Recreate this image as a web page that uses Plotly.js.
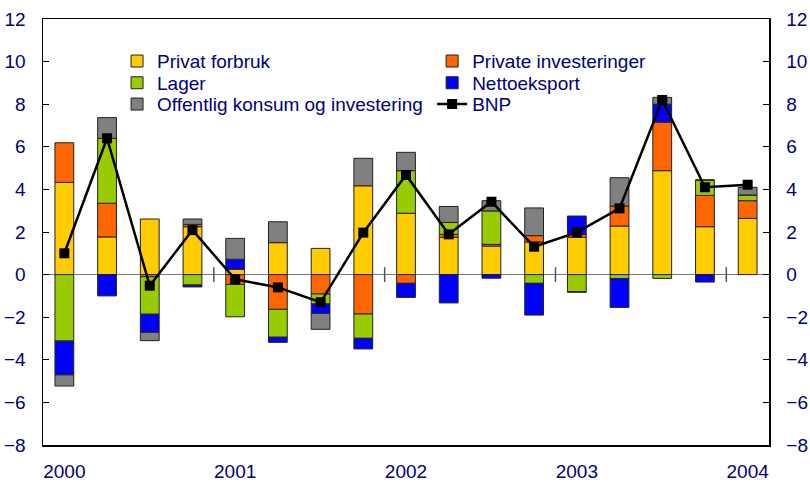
<!DOCTYPE html>
<html><head><meta charset="utf-8">
<script src="https://cdn.plot.ly/plotly-3.0.1.min.js"></script>
<style>html,body{margin:0;padding:0;background:#fff}#c{width:810px;height:483px}</style>
</head><body><div id="c"></div>
<script>
const quarters = ["2000K1","2000K2","2000K3","2000K4","2001K1","2001K2","2001K3","2001K4","2002K1","2002K2","2002K3","2002K4","2003K1","2003K2","2003K3","2003K4","2004K1"];
const tickYears = ["2000","2001","2002","2003","2004"];
const privatForbruk = [4.33,1.77,2.61,2.25,0.25,1.50,1.23,4.17,2.88,1.75,1.34,1.53,1.75,2.28,4.88,2.25,2.64];
const privateInv    = [1.86,1.58,-0.10,0.11,-0.46,-1.63,-0.91,-1.85,-0.41,0.14,0.08,0.30,0.14,0.94,2.28,1.47,0.83];
const lager         = [-3.12,3.05,-1.76,-0.49,-1.52,-1.31,-0.47,-1.14,2.00,0.56,1.57,-0.41,-0.80,-0.19,-0.18,0.72,0.27];
const nettoeksport  = [-1.59,-1.00,-0.85,-0.09,0.47,-0.24,-0.44,-0.50,-0.66,-1.33,-0.17,-1.49,0.86,-1.35,0.84,-0.35,0.00];
const offentlig     = [-0.52,0.97,-0.39,0.25,0.98,0.98,-0.75,1.29,0.86,0.75,0.48,1.30,-0.03,1.33,0.32,0.00,0.36];
const bnp           = [1.00,6.40,-0.52,2.09,-0.22,-0.60,-1.30,1.97,4.68,1.89,3.42,1.31,1.98,3.11,8.20,4.10,4.22];

const navy = "#000080";
const font = {family: "Arial, 'Liberation Sans', sans-serif", size: 19, color: navy};
function barTrace(name, y, color, leg) {
  return {type: "bar", name: name, x: quarters, y: y, legend: leg,
    marker: {color: color, line: {color: "#222", width: 1}}, width: 0.44};
}
const traces = [
  barTrace("Privat forbruk", privatForbruk, "#FFCC00", "legend"),
  barTrace("Private investeringer", privateInv, "#FF6600", "legend2"),
  barTrace("Lager", lager, "#99CC00", "legend3"),
  barTrace("Nettoeksport", nettoeksport, "#0000FF", "legend4"),
  barTrace("Offentlig konsum og investering", offentlig, "#808080", "legend5"),
  {type: "scatter", mode: "lines+markers", name: "BNP", x: quarters, y: bnp, legend: "legend6",
   line: {color: "#000", width: 2.5}, marker: {symbol: "square", size: 10, color: "#000"}},
  {type: "scatter", x: quarters, y: bnp, yaxis: "y2", mode: "none", showlegend: false, hoverinfo: "skip"}
];
const shapes = [];
quarters.forEach((q, i) => {
  if (i > 0 && q.endsWith("K1")) {
    shapes.push({type: "line", xref: "x", yref: "y", x0: i - 0.5, x1: i - 0.5, y0: -0.35, y1: 0.35,
      line: {color: "#555", width: 1.5}});
  }
});
function leg(x, y) {
  return {x: x, y: y, xanchor: "left", yanchor: "middle", font: font,
    bgcolor: "rgba(0,0,0,0)", borderwidth: 0, itemwidth: 30};
}
const col1 = 0.102, col2 = 0.536, r1 = 0.901, r2 = 0.850, r3 = 0.800;
const layout = {
  width: 810, height: 483,
  margin: {l: 43, r: 41, t: 19, b: 38},
  paper_bgcolor: "#fff", plot_bgcolor: "#fff",
  barmode: "relative",
  font: font,
  showlegend: true,
  legend: leg(col1, r1), legend2: leg(col2, r1),
  legend3: leg(col1, r2), legend4: leg(col2, r2),
  legend5: leg(col1, r3), legend6: leg(col2, r3),
  xaxis: {type: "category", range: [-0.5, quarters.length - 0.5],
    tickmode: "array", tickvals: quarters.filter(q => q.endsWith("K1")), ticktext: tickYears,
    ticks: "", showline: true, linecolor: "#000", linewidth: 1.5, mirror: true,
    showgrid: false, zeroline: false, tickfont: font, ticklabelstandoff: 9},
  yaxis: {range: [-8, 12], dtick: 2, tick0: 0, ticks: "inside", ticklen: 6, tickcolor: "#000",
    showline: true, linecolor: "#000", linewidth: 1.5, showgrid: false,
    zeroline: true, zerolinecolor: "#777", zerolinewidth: 1.5, tickfont: font, ticklabelstandoff: 12},
  yaxis2: {range: [-8, 12], dtick: 2, tick0: 0, overlaying: "y", side: "right", ticks: "inside",
    ticklen: 6, tickcolor: "#000", showline: true, linecolor: "#000", linewidth: 1.5,
    showgrid: false, zeroline: false, tickfont: font, ticklabelstandoff: 12},
  shapes: shapes
};
Plotly.newPlot("c", traces, layout, {displayModeBar: false, staticPlot: true});
</script></body></html>
